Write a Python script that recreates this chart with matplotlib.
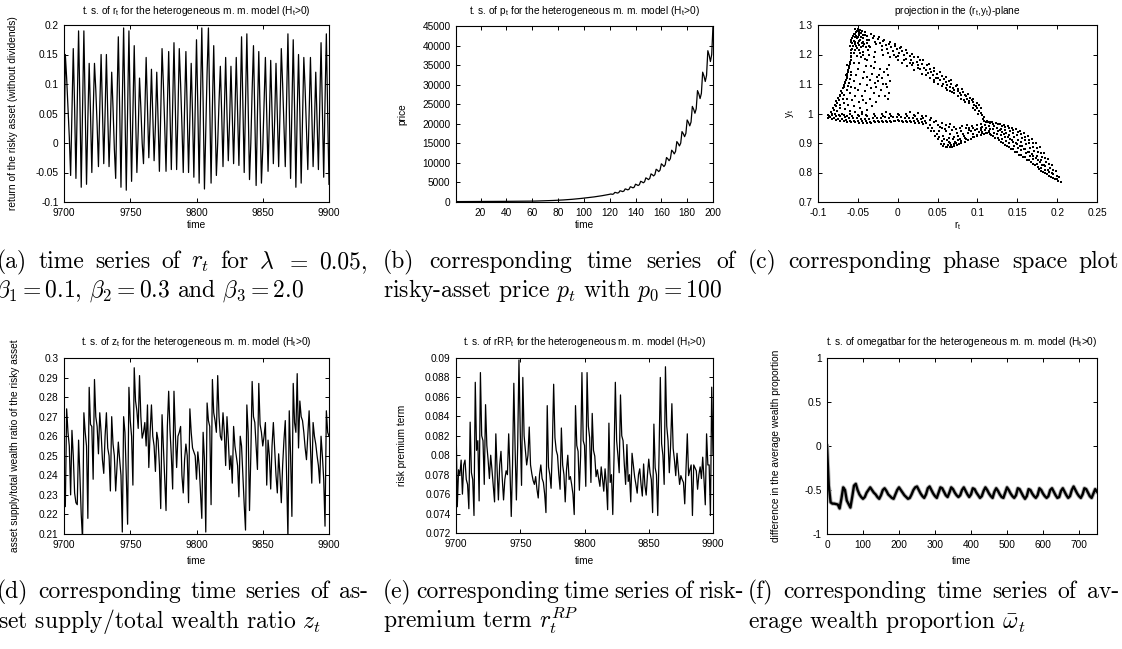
import numpy as np
import matplotlib
matplotlib.use("Agg")
import matplotlib.pyplot as plt
from matplotlib.ticker import FuncFormatter

W, H = 1122, 649

# ---------------- data ----------------
t_window = np.arange(9700, 9901)

# return of the risky asset r_t, t = 9700..9900
r_t = [
    -0.04, 0.15, 0.11, 0.06, 0.01, -0.055, 0.05, 0.16, 0.06, -0.06,
    0.07, 0.19, 0.07, -0.075, 0.06, 0.19, 0.06, -0.07, 0.04, 0.135,
    0.05, -0.05, 0.05, 0.135, 0.09, 0.03, -0.04, 0.06, 0.15, 0.06,
    -0.035, 0.05, 0.15, 0.05, -0.04, 0.03, 0.12, 0.06, -0.01, -0.06,
    0.07, 0.18, 0.06, -0.075, 0.07, 0.195, 0.06, -0.08, 0.06, 0.19,
    0.05, -0.065, 0.05, 0.165, 0.05, -0.05, 0.02, 0.11, 0.06, 0.0,
    -0.035, 0.05, 0.145, 0.06, -0.025, 0.04, 0.125, 0.05, -0.03, 0.03,
    0.12, 0.04, -0.048, 0.05, 0.16, 0.10, 0.03, -0.048, 0.06, 0.155,
    0.05, -0.045, 0.06, 0.17, 0.06, -0.045, 0.05, 0.16, 0.10, 0.03,
    -0.05, 0.06, 0.155, 0.05, -0.05, 0.04, 0.135, 0.05, -0.058, 0.06,
    0.175, 0.06, -0.068, 0.07, 0.195, 0.07, -0.078, 0.02, 0.12, 0.195,
    0.06, -0.068, 0.06, 0.165, 0.05, -0.055, 0.0, 0.07, 0.13, 0.05,
    -0.04, 0.05, 0.145, 0.05, -0.03, 0.04, 0.13, 0.05, -0.035, 0.05,
    0.145, 0.05, -0.038, 0.06, 0.18, 0.06, -0.05, 0.07, 0.185, 0.06,
    -0.062, 0.0, 0.09, 0.165, 0.05, -0.072, 0.05, 0.155, 0.05, -0.068,
    -0.01, 0.07, 0.145, 0.05, -0.048, 0.04, 0.14, 0.05, -0.035, 0.04,
    0.135, 0.05, -0.04, 0.05, 0.16, 0.10, 0.03, -0.04, 0.07, 0.185,
    0.06, -0.06, 0.06, 0.175, 0.06, -0.075, 0.05, 0.15, 0.05, -0.068,
    0.04, 0.145, 0.09, 0.02, -0.045, 0.05, 0.145, 0.05, -0.04, 0.03,
    0.12, 0.04, -0.045, 0.06, 0.17, 0.06, -0.058, 0.07, 0.185, 0.05,
    -0.07,
]

# asset supply / total wealth ratio z_t, t = 9700..9900
z_t = [
    0.226, 0.224, 0.274, 0.262, 0.255, 0.230, 0.263, 0.250, 0.231, 0.226,
    0.225, 0.258, 0.240, 0.220, 0.207, 0.272, 0.262, 0.255, 0.218, 0.285,
    0.266, 0.265, 0.238, 0.289, 0.270, 0.265, 0.251, 0.272, 0.262, 0.248,
    0.241, 0.260, 0.272, 0.254, 0.250, 0.232, 0.270, 0.256, 0.250, 0.232,
    0.245, 0.257, 0.248, 0.240, 0.211, 0.270, 0.262, 0.240, 0.215, 0.285,
    0.268, 0.260, 0.235, 0.295, 0.278, 0.273, 0.264, 0.291, 0.270, 0.259,
    0.262, 0.267, 0.255, 0.276, 0.244, 0.262, 0.276, 0.260, 0.255, 0.242,
    0.262, 0.258, 0.245, 0.223, 0.271, 0.255, 0.238, 0.222, 0.265, 0.283,
    0.263, 0.250, 0.233, 0.283, 0.262, 0.244, 0.260, 0.262, 0.265, 0.240,
    0.231, 0.248, 0.256, 0.250, 0.226, 0.274, 0.262, 0.254, 0.252, 0.250,
    0.238, 0.252, 0.245, 0.232, 0.218, 0.262, 0.248, 0.211, 0.277, 0.268,
    0.265, 0.225, 0.289, 0.272, 0.268, 0.262, 0.291, 0.270, 0.260, 0.258,
    0.272, 0.262, 0.245, 0.270, 0.258, 0.243, 0.250, 0.236, 0.265, 0.255,
    0.250, 0.245, 0.229, 0.260, 0.255, 0.240, 0.225, 0.212, 0.276, 0.262,
    0.222, 0.250, 0.288, 0.270, 0.267, 0.255, 0.243, 0.287, 0.266, 0.262,
    0.255, 0.260, 0.267, 0.235, 0.258, 0.250, 0.233, 0.255, 0.267, 0.253,
    0.240, 0.231, 0.251, 0.240, 0.226, 0.245, 0.258, 0.268, 0.240, 0.208,
    0.273, 0.250, 0.219, 0.287, 0.267, 0.262, 0.292, 0.254, 0.278, 0.270,
    0.268, 0.262, 0.254, 0.248, 0.260, 0.273, 0.255, 0.236, 0.267, 0.260,
    0.256, 0.250, 0.245, 0.236, 0.260, 0.250, 0.238, 0.214, 0.273, 0.262,
    0.260,
]

# risk-premium term rRP_t, t = 9700..9900
rrp_t = [
    0.0838, 0.0747, 0.0785, 0.0780, 0.0795, 0.0760, 0.0790, 0.0795, 0.0775, 0.0770,
    0.0745, 0.0834, 0.0782, 0.0775, 0.0738, 0.0875, 0.0805, 0.0815, 0.0753, 0.0885,
    0.0820, 0.0815, 0.0770, 0.0852, 0.0810, 0.0795, 0.0776, 0.0800, 0.0785, 0.0768,
    0.0752, 0.0822, 0.0785, 0.0754, 0.0790, 0.0804, 0.0776, 0.0754, 0.0775, 0.0784,
    0.0780, 0.0822, 0.0785, 0.0737, 0.0790, 0.0874, 0.0806, 0.0754, 0.0810, 0.0898,
    0.0824, 0.0769, 0.0880, 0.0820, 0.0805, 0.0790, 0.0800, 0.0829, 0.0790, 0.0781,
    0.0774, 0.0770, 0.0778, 0.0765, 0.0756, 0.0780, 0.0790, 0.0776, 0.0772, 0.0760,
    0.0741, 0.0851, 0.0788, 0.0780, 0.0766, 0.0810, 0.0873, 0.0818, 0.0805, 0.0800,
    0.0780, 0.0765, 0.0828, 0.0790, 0.0780, 0.0752, 0.0785, 0.0800, 0.0775, 0.0778,
    0.0770, 0.0760, 0.0739, 0.0851, 0.0810, 0.0804, 0.0764, 0.0800, 0.0885, 0.0815,
    0.0810, 0.0768, 0.0885, 0.0830, 0.0818, 0.0772, 0.0843, 0.0805, 0.0799, 0.0778,
    0.0785, 0.0776, 0.0768, 0.0788, 0.0775, 0.0763, 0.0786, 0.0770, 0.0744, 0.0833,
    0.0772, 0.0780, 0.0739, 0.0800, 0.0875, 0.0815, 0.0800, 0.0782, 0.0862, 0.0820,
    0.0815, 0.0790, 0.0770, 0.0811, 0.0773, 0.0780, 0.0752, 0.0802, 0.0790, 0.0778,
    0.0770, 0.0761, 0.0780, 0.0786, 0.0770, 0.0758, 0.0791, 0.0769, 0.0759, 0.0780,
    0.0796, 0.0782, 0.0775, 0.0741, 0.0832, 0.0787, 0.0780, 0.0738, 0.0800, 0.0880,
    0.0812, 0.0800, 0.0770, 0.0891, 0.0830, 0.0815, 0.0782, 0.0810, 0.0853, 0.0807,
    0.0795, 0.0779, 0.0802, 0.0785, 0.0770, 0.0779, 0.0775, 0.0772, 0.0750, 0.0785,
    0.0822, 0.0779, 0.0785, 0.0790, 0.0738, 0.0790, 0.0787, 0.0784, 0.0765, 0.0780,
    0.0788, 0.0776, 0.0798, 0.0775, 0.0749, 0.0822, 0.0790, 0.0790, 0.0738, 0.0870,
    0.0800,
]

# risky-asset price p_t, t = 0..200
t_price = np.arange(0, 201)
p_t = [
    100, 101, 103, 104, 106, 107, 108, 110, 111, 112,
    114, 115, 117, 118, 120, 121, 123, 124, 126, 128,
    129, 131, 133, 134, 136, 138, 140, 141, 143, 145,
    147, 149, 151, 153, 155, 157, 159, 161, 163, 165,
    167, 169, 171, 174, 176, 178, 181, 183, 185, 188,
    190, 193, 195, 198, 200, 203, 206, 208, 211, 214,
    217, 225, 233, 242, 251, 260, 270, 280, 290, 301,
    312, 323, 335, 347, 360, 373, 387, 401, 416, 431,
    447, 465, 484, 504, 524, 545, 568, 591, 615, 640,
    666, 693, 721, 750, 781, 813, 846, 880, 916, 953,
    992, 1027, 1063, 1100, 1139, 1179, 1220, 1263, 1307, 1353,
    1400, 1449, 1500, 1552, 1607, 1663, 1721, 1781, 1844, 1908,
    1975, 2052, 1961, 2060, 2462, 2391, 2285, 2400, 2870, 2786,
    2663, 2797, 3344, 3247, 3104, 3260, 3897, 3784, 3617, 3799,
    4541, 4409, 4215, 4427, 5292, 5138, 4912, 5159, 6166, 5988,
    5723, 6012, 7186, 6978, 6670, 7006, 8374, 8131, 7773, 8164,
    9759, 9476, 9058, 9514, 11373, 11043, 10556, 11087, 13253, 12869,
    12301, 12920, 15445, 14997, 14335, 15056, 17998, 17477, 16706, 17546,
    20975, 20368, 19469, 20448, 24444, 23736, 22689, 23829, 28487, 27661,
    26441, 27771, 33197, 32235, 30814, 32363, 38687, 37566, 35909, 37714,
    45084,
]

# difference in the average wealth proportion, t = 0, 5, ..., 750
t_omega = np.arange(0, 751, 5)
omega_bar = [
    0.0, -0.45, -0.64, -0.655, -0.655, -0.66, -0.665, -0.71, -0.60, -0.47,
    -0.50, -0.62, -0.66, -0.70, -0.58, -0.45, -0.43, -0.50, -0.55, -0.58,
    -0.60, -0.58, -0.53, -0.50, -0.47, -0.50, -0.53, -0.55, -0.58, -0.60,
    -0.56, -0.50, -0.48, -0.51, -0.55, -0.57, -0.59, -0.60, -0.55, -0.50,
    -0.47, -0.50, -0.53, -0.56, -0.58, -0.60, -0.59, -0.55, -0.50, -0.47,
    -0.46, -0.50, -0.54, -0.57, -0.59, -0.55, -0.48, -0.46, -0.50, -0.54,
    -0.57, -0.59, -0.53, -0.47, -0.48, -0.52, -0.56, -0.58, -0.53, -0.47,
    -0.49, -0.53, -0.56, -0.58, -0.56, -0.50, -0.47, -0.51, -0.55, -0.58,
    -0.55, -0.48, -0.49, -0.53, -0.56, -0.59, -0.57, -0.51, -0.47, -0.50,
    -0.54, -0.57, -0.59, -0.52, -0.48, -0.51, -0.55, -0.58, -0.59, -0.53,
    -0.47, -0.50, -0.54, -0.57, -0.59, -0.56, -0.48, -0.49, -0.53, -0.57,
    -0.60, -0.57, -0.49, -0.50, -0.54, -0.57, -0.59, -0.56, -0.48, -0.50,
    -0.54, -0.57, -0.59, -0.57, -0.50, -0.48, -0.52, -0.56, -0.59, -0.58,
    -0.51, -0.48, -0.52, -0.56, -0.59, -0.57, -0.50, -0.46, -0.50, -0.54,
    -0.57, -0.59, -0.55, -0.48, -0.49, -0.53, -0.57, -0.59, -0.54, -0.49,
    -0.52,
]

# (r_t, y_t) states of the attractor
phase_points = [
    # upper edge running from the top-left tip down to the crossing
    (-0.050, 1.288), (-0.048, 1.280), (-0.046, 1.272), (-0.052, 1.275), (-0.044, 1.265),
    (-0.041, 1.276), (-0.038, 1.262), (-0.036, 1.250), (-0.034, 1.268), (-0.031, 1.255),
    (-0.029, 1.243), (-0.027, 1.235), (-0.025, 1.252), (-0.022, 1.240), (-0.020, 1.228),
    (-0.018, 1.246), (-0.015, 1.232), (-0.013, 1.220), (-0.011, 1.236), (-0.008, 1.226),
    (-0.006, 1.212), (-0.004, 1.230), (-0.001, 1.218), (0.001, 1.205), (0.003, 1.222),
    (0.006, 1.212), (0.008, 1.198), (0.010, 1.185), (0.012, 1.206), (0.015, 1.195),
    (0.017, 1.182), (0.019, 1.170), (0.021, 1.190), (0.024, 1.176), (0.026, 1.163),
    (0.028, 1.180), (0.031, 1.168), (0.033, 1.155), (0.035, 1.148), (0.037, 1.163),
    (0.040, 1.152), (0.042, 1.140), (0.044, 1.130), (0.046, 1.145), (0.049, 1.135),
    (0.051, 1.122), (0.053, 1.113), (0.055, 1.128), (0.058, 1.118), (0.060, 1.106),
    (0.062, 1.098), (0.064, 1.110), (0.067, 1.100), (0.069, 1.088), (0.071, 1.080),
    (0.073, 1.092), (0.076, 1.082), (0.078, 1.070), (0.080, 1.062), (0.082, 1.072),
    (0.085, 1.062), (0.087, 1.050), (0.089, 1.044), (0.091, 1.052), (0.094, 1.040),
    (0.096, 1.030), (0.098, 1.024), (0.100, 1.018), (0.102, 1.010), (0.104, 1.002),
    (0.106, 0.995), (0.108, 0.988),
    (-0.035, 1.225), (-0.028, 1.210), (-0.018, 1.200), (-0.010, 1.190), (0.000, 1.180),
    (0.005, 1.170), (0.012, 1.160), (0.020, 1.148), (0.030, 1.135), (0.040, 1.122),
    (0.050, 1.100), (0.060, 1.085), (0.070, 1.068), (0.080, 1.050), (0.090, 1.035),
    (0.000, 1.195), (0.015, 1.170), (0.025, 1.155), (-0.005, 1.200), (0.035, 1.130),
    (0.045, 1.115), (0.065, 1.075), (0.075, 1.060), (0.085, 1.040), (0.095, 1.020),
    (-0.030, 1.264), (-0.024, 1.258), (-0.017, 1.250), (-0.010, 1.242), (-0.003, 1.234),
    (0.004, 1.226), (0.011, 1.215), (0.018, 1.203), (0.025, 1.192), (0.032, 1.180),
    (0.039, 1.167), (0.046, 1.154), (0.053, 1.140), (0.060, 1.125), (0.067, 1.112),
    (0.074, 1.098), (0.081, 1.083), (0.088, 1.066), (0.095, 1.048), (0.102, 1.028),
    (-0.020, 1.215), (-0.012, 1.205), (-0.002, 1.192), (0.008, 1.180), (0.018, 1.165),
    (0.028, 1.150), (0.038, 1.138), (0.048, 1.120), (0.057, 1.100), (0.066, 1.090),
    (0.076, 1.075), (0.086, 1.058), (0.093, 1.045), (0.099, 1.035), (0.105, 1.020),
    (0.045, 1.108), (0.055, 1.092), (0.062, 1.081), (0.068, 1.072), (0.083, 1.047),
    (0.097, 1.012), (0.101, 1.000), (0.107, 0.982), (0.112, 0.975), (0.116, 0.970),
    # dense cluster at the top-left tip
    (-0.054, 1.285), (-0.051, 1.281), (-0.049, 1.274), (-0.047, 1.284), (-0.045, 1.279),
    (-0.055, 1.268), (-0.052, 1.262), (-0.050, 1.258), (-0.048, 1.247), (-0.046, 1.260),
    (-0.043, 1.255), (-0.041, 1.266), (-0.039, 1.249), (-0.057, 1.255), (-0.059, 1.242),
    (-0.060, 1.228), (-0.054, 1.234), (-0.051, 1.222), (-0.049, 1.232), (-0.046, 1.226),
    (-0.044, 1.244), (-0.042, 1.236), (-0.040, 1.226), (-0.058, 1.215), (-0.055, 1.205),
    (-0.053, 1.215), (-0.047, 1.205), (-0.044, 1.198), (-0.038, 1.238), (-0.036, 1.228),
    # left band between the leftmost point and the tip
    (-0.086, 0.992), (-0.083, 1.000), (-0.080, 1.012), (-0.078, 1.025), (-0.082, 0.995),
    (-0.076, 1.035), (-0.074, 1.045), (-0.072, 1.058), (-0.070, 1.070), (-0.069, 1.085),
    (-0.067, 1.095), (-0.066, 1.108), (-0.064, 1.120), (-0.063, 1.135), (-0.062, 1.148),
    (-0.061, 1.160), (-0.060, 1.175), (-0.059, 1.190), (-0.058, 1.205), (-0.057, 1.218),
    (-0.056, 1.230), (-0.055, 1.245), (-0.054, 1.258), (-0.053, 1.270), (-0.056, 1.262),
    (-0.058, 1.250), (-0.057, 1.238), (-0.053, 1.242), (-0.051, 1.255), (-0.052, 1.228),
    (-0.050, 1.240), (-0.049, 1.265), (-0.047, 1.250), (-0.045, 1.238),
    (-0.087, 0.996), (-0.084, 1.006), (-0.081, 1.018), (-0.079, 1.030), (-0.077, 1.041),
    (-0.075, 1.052), (-0.073, 1.064), (-0.071, 1.077), (-0.068, 1.090), (-0.066, 1.102),
    (-0.065, 1.114), (-0.063, 1.126), (-0.062, 1.140), (-0.061, 1.153), (-0.060, 1.168),
    (-0.059, 1.182), (-0.058, 1.196), (-0.076, 1.010), (-0.073, 1.028), (-0.069, 1.048),
    (-0.067, 1.063), (-0.064, 1.078), (-0.062, 1.092), (-0.060, 1.118), (-0.058, 1.132),
    (-0.072, 1.020), (-0.068, 1.035), (-0.064, 1.050), (-0.060, 1.070), (-0.058, 1.090),
    (-0.055, 1.110), (-0.052, 1.130), (-0.050, 1.150), (-0.048, 1.170), (-0.046, 1.190),
    (-0.044, 1.210), (-0.066, 1.015), (-0.062, 1.030), (-0.057, 1.045), (-0.053, 1.060),
    (-0.050, 1.080), (-0.047, 1.100), (-0.044, 1.120), (-0.042, 1.140), (-0.040, 1.160),
    (-0.038, 1.180), (-0.036, 1.200), (-0.060, 1.010), (-0.055, 1.025), (-0.049, 1.040),
    (-0.045, 1.060), (-0.041, 1.075), (-0.038, 1.095), (-0.035, 1.115), (-0.032, 1.135),
    (-0.030, 1.155), (-0.028, 1.175), (-0.054, 1.005), (-0.047, 1.020), (-0.040, 1.035),
    (-0.035, 1.050), (-0.030, 1.070), (-0.027, 1.090), (-0.025, 1.110), (-0.023, 1.130),
    (-0.022, 1.150), (-0.045, 1.000), (-0.038, 1.012), (-0.032, 1.025), (-0.027, 1.040),
    (-0.024, 1.060), (-0.021, 1.080), (-0.019, 1.100), (-0.020, 1.120), (-0.063, 1.165),
    (-0.059, 1.140), (-0.055, 1.170), (-0.051, 1.195), (-0.048, 1.215), (-0.043, 1.230),
    (-0.065, 1.130), (-0.061, 1.105), (-0.054, 1.085), (-0.043, 1.045), (-0.034, 1.085),
    (-0.029, 1.105), (-0.026, 1.125), (-0.039, 1.125), (-0.033, 1.160), (-0.030, 1.190),
    (-0.041, 1.185), (-0.037, 1.215),
    (-0.012, 1.050), (-0.011, 1.070), (-0.013, 1.090), (-0.010, 1.110), (-0.012, 1.130),
    (-0.014, 1.150), (-0.011, 1.165), (-0.016, 1.060), (-0.015, 1.100), (-0.017, 1.140),
    # bottom band of the left loop
    (-0.085, 0.988), (-0.080, 0.985), (-0.075, 0.982), (-0.070, 0.980), (-0.065, 0.978),
    (-0.060, 0.976), (-0.055, 0.975), (-0.050, 0.974), (-0.045, 0.973), (-0.040, 0.973),
    (-0.035, 0.972), (-0.030, 0.973), (-0.025, 0.974), (-0.020, 0.974), (-0.015, 0.975),
    (-0.010, 0.976), (-0.005, 0.976), (0.000, 0.977), (0.005, 0.976), (0.010, 0.976),
    (0.015, 0.975), (0.020, 0.974), (0.025, 0.973), (0.030, 0.972),
    (-0.082, 0.995), (-0.077, 0.992), (-0.072, 0.990), (-0.066, 0.988), (-0.061, 0.986),
    (-0.056, 0.985), (-0.051, 0.984), (-0.046, 0.983), (-0.041, 0.982), (-0.036, 0.983),
    (-0.031, 0.984), (-0.026, 0.985), (-0.021, 0.986), (-0.016, 0.987), (-0.011, 0.986),
    (-0.006, 0.987), (-0.001, 0.988), (0.004, 0.987), (0.009, 0.986), (0.014, 0.985),
    (0.019, 0.984), (0.024, 0.983), (0.029, 0.980), (0.034, 0.976),
    (-0.070, 1.000), (-0.060, 0.998), (-0.050, 0.995), (-0.040, 0.996), (-0.030, 0.997),
    (-0.020, 0.999), (-0.010, 0.998), (0.000, 1.000), (0.010, 0.998), (0.020, 0.995),
    (0.030, 0.992), (0.036, 0.990), (0.042, 0.985), (-0.045, 1.005), (-0.015, 1.006),
    (0.015, 1.004), (0.025, 1.002),
    (-0.087, 0.984), (-0.083, 0.980), (-0.078, 0.977), (-0.073, 0.975), (-0.068, 0.973),
    (-0.063, 0.972), (-0.058, 0.971), (-0.053, 0.970), (-0.048, 0.969), (-0.043, 0.969),
    (-0.038, 0.968), (-0.033, 0.969), (-0.028, 0.970), (-0.023, 0.970), (-0.018, 0.971),
    (-0.013, 0.972), (-0.008, 0.972), (-0.003, 0.973), (0.002, 0.973), (0.007, 0.972),
    (0.012, 0.971), (0.017, 0.970), (0.022, 0.969), (0.027, 0.967), (0.032, 0.964),
    (-0.079, 0.998), (-0.074, 0.995), (-0.068, 0.994), (-0.063, 0.993), (-0.057, 0.991),
    (-0.048, 0.990), (-0.038, 0.990), (-0.028, 0.992), (-0.018, 0.993), (-0.008, 0.993),
    (0.002, 0.994), (0.012, 0.992), (0.022, 0.990), (0.032, 0.986), (0.040, 0.978),
    # notch below the crossing
    (0.035, 0.968), (0.040, 0.960), (0.043, 0.950), (0.046, 0.940), (0.049, 0.930),
    (0.052, 0.920), (0.055, 0.908), (0.058, 0.897), (0.060, 0.888), (0.062, 0.885),
    (0.065, 0.886), (0.068, 0.888), (0.071, 0.890), (0.074, 0.893), (0.077, 0.897),
    (0.080, 0.900), (0.084, 0.905), (0.088, 0.910), (0.092, 0.915), (0.096, 0.920),
    (0.100, 0.924), (0.104, 0.928), (0.108, 0.931), (0.112, 0.934),
    (0.045, 0.970), (0.050, 0.960), (0.055, 0.950), (0.060, 0.940), (0.065, 0.930),
    (0.070, 0.920), (0.075, 0.910), (0.052, 0.940), (0.057, 0.925), (0.062, 0.910),
    (0.066, 0.900), (0.072, 0.905), (0.078, 0.915), (0.083, 0.925), (0.088, 0.935),
    (0.092, 0.940), (0.097, 0.945), (0.068, 0.945), (0.074, 0.935), (0.080, 0.940),
    (0.086, 0.950), (0.060, 0.960), (0.064, 0.955), (0.070, 0.955), (0.078, 0.952),
    (0.090, 0.952), (0.100, 0.948), (0.105, 0.950), (0.110, 0.945), (0.095, 0.930),
    (0.102, 0.938), (0.048, 0.975), (0.056, 0.968), (0.085, 0.918), (0.064, 0.918),
    (0.070, 0.898),
    (0.038, 0.952), (0.042, 0.942), (0.047, 0.925), (0.050, 0.912), (0.054, 0.898),
    (0.057, 0.889), (0.063, 0.892), (0.067, 0.894), (0.073, 0.899), (0.079, 0.906),
    (0.086, 0.913), (0.094, 0.921), (0.099, 0.928), (0.106, 0.934), (0.114, 0.940),
    (0.058, 0.915), (0.064, 0.905), (0.069, 0.912), (0.076, 0.925), (0.082, 0.932),
    (0.089, 0.943), (0.094, 0.950), (0.053, 0.955), (0.059, 0.948), (0.066, 0.965),
    (0.073, 0.948), (0.081, 0.958), (0.087, 0.962), (0.093, 0.958), (0.099, 0.962),
    # right lobe ending in the lower-right tip
    (0.1050, 0.966), (0.1057, 0.954), (0.1046, 0.944), (0.1062, 0.938),
    (0.1103, 0.971), (0.1096, 0.961), (0.1108, 0.951), (0.1094, 0.943), (0.1112, 0.934),
    (0.1152, 0.968), (0.1145, 0.957), (0.1158, 0.949), (0.1148, 0.938), (0.1155, 0.929),
    (0.1196, 0.965), (0.1205, 0.956), (0.1193, 0.946), (0.1207, 0.934), (0.1199, 0.924),
    (0.1253, 0.963), (0.1244, 0.951), (0.1258, 0.941), (0.1247, 0.929), (0.1256, 0.917),
    (0.1302, 0.959), (0.1295, 0.949), (0.1309, 0.937), (0.1297, 0.926), (0.1305, 0.913),
    (0.1294, 0.903),
    (0.1351, 0.955), (0.1344, 0.944), (0.1358, 0.933), (0.1347, 0.919), (0.1355, 0.906),
    (0.1346, 0.894),
    (0.1398, 0.951), (0.1406, 0.939), (0.1394, 0.927), (0.1409, 0.914), (0.1401, 0.899),
    (0.1396, 0.886),
    (0.1452, 0.944), (0.1445, 0.933), (0.1457, 0.919), (0.1448, 0.905), (0.1455, 0.891),
    (0.1449, 0.879),
    (0.1503, 0.937), (0.1496, 0.926), (0.1508, 0.911), (0.1494, 0.897), (0.1506, 0.883),
    (0.1499, 0.869),
    (0.1548, 0.930), (0.1556, 0.917), (0.1545, 0.905), (0.1558, 0.889), (0.1551, 0.877),
    (0.1546, 0.861),
    (0.1602, 0.921), (0.1595, 0.909), (0.1607, 0.896), (0.1598, 0.879), (0.1604, 0.867),
    (0.1596, 0.851),
    (0.1653, 0.911), (0.1646, 0.899), (0.1655, 0.884), (0.1644, 0.871), (0.1657, 0.855),
    (0.1649, 0.843),
    (0.1701, 0.899), (0.1694, 0.887), (0.1706, 0.874), (0.1697, 0.857), (0.1703, 0.845),
    (0.1695, 0.829),
    (0.1748, 0.884), (0.1755, 0.871), (0.1746, 0.857), (0.1754, 0.844), (0.1749, 0.829),
    (0.1756, 0.817),
    (0.1797, 0.867), (0.1804, 0.854), (0.1795, 0.841), (0.1806, 0.827), (0.1799, 0.814),
    (0.1803, 0.804),
    (0.1848, 0.849), (0.1854, 0.835), (0.1846, 0.823), (0.1853, 0.809), (0.1849, 0.797),
    (0.1898, 0.829), (0.1905, 0.815), (0.1896, 0.802), (0.1903, 0.789),
    (0.1947, 0.807), (0.1954, 0.794), (0.1949, 0.783),
    (0.1996, 0.789), (0.2003, 0.777),
    (0.2048, 0.767),
    (0.108, 0.975), (0.113, 0.972), (0.118, 0.971), (0.123, 0.968), (0.128, 0.966),
    (0.133, 0.962), (0.138, 0.958), (0.143, 0.952), (0.148, 0.946), (0.153, 0.940),
    (0.158, 0.933), (0.163, 0.923), (0.168, 0.912), (0.173, 0.900), (0.178, 0.885),
    (0.183, 0.866), (0.188, 0.847), (0.193, 0.826), (0.198, 0.805), (0.202, 0.785),
    (0.117, 0.926), (0.122, 0.918), (0.127, 0.910), (0.132, 0.900), (0.137, 0.889),
    (0.142, 0.878), (0.147, 0.868), (0.152, 0.860), (0.157, 0.852), (0.162, 0.843),
    (0.167, 0.834), (0.172, 0.824), (0.177, 0.813), (0.182, 0.803), (0.187, 0.794),
    (0.192, 0.786), (0.197, 0.778), (0.201, 0.772),
    (0.128, 0.945), (0.138, 0.920), (0.148, 0.900), (0.158, 0.880), (0.168, 0.862),
    (0.178, 0.835), (0.188, 0.810), (0.133, 0.930), (0.143, 0.910), (0.153, 0.890),
    (0.163, 0.870), (0.173, 0.850), (0.183, 0.825), (0.193, 0.800),
]
phase_r = [pt[0] for pt in phase_points]
phase_y = [pt[1] for pt in phase_points]

# ---------------- styling ----------------
plt.rcParams.update({
    "font.family": ["Liberation Sans", "DejaVu Sans"],
    "axes.unicode_minus": False,
    "mathtext.fontset": "custom",
    "mathtext.rm": "Liberation Sans",
    "mathtext.it": "Liberation Sans:italic",
})

fig = plt.figure(figsize=(W / 100, H / 100), dpi=100)
FS = 7.3


def ftext(x, y, s, **kw):
    return fig.text(x / W, 1 - y / H, s, **kw)


def axes_px(l, t, r, b):
    return fig.add_axes([l / W, 1 - b / H, (r - l) / W, (b - t) / H])


def gfmt(v, _):
    v = round(v, 6) + 0.0
    return f"{v:g}"


def style(ax, xlim, ylim, xticks, yticks):
    ax.set_xlim(*xlim)
    ax.set_ylim(*ylim)
    ax.set_xticks(xticks)
    ax.set_yticks(yticks)
    ax.xaxis.set_major_formatter(FuncFormatter(gfmt))
    ax.yaxis.set_major_formatter(FuncFormatter(gfmt))
    ax.tick_params(direction="in", top=True, right=True, length=2.8,
                   width=0.7, labelsize=FS, pad=4)
    for s in ax.spines.values():
        s.set_linewidth(0.8)


def panel_text(box, title, xlabel, ylabel, ylab_x, title_y, xlab_y):
    l, t, r, b = box
    ftext((l + r) / 2, title_y, title, ha="center", va="center", fontsize=FS)
    ftext((l + r) / 2, xlab_y, xlabel, ha="center", va="center", fontsize=FS)
    ftext(ylab_x, (t + b) / 2, ylabel, ha="center", va="center",
          rotation=90, fontsize=FS)


HT = r"($\mathregular{H_t}$>0)"

# (a) r_t
box_a = (64, 25, 329, 202)
ax = axes_px(*box_a)
ax.plot(t_window, r_t, color="black", lw=0.9)
style(ax, (9700, 9900), (-0.1, 0.2), np.arange(9700, 9901, 50),
      np.arange(-0.1, 0.2001, 0.05))
panel_text(box_a, r"t. s. of $\mathregular{r_t}$ for the heterogeneous m. m. model " + HT,
           "time", "return of the risky asset (without dividends)", 13, 11, 225)

# (b) p_t
box_b = (456, 26, 713, 202)
ax = axes_px(*box_b)
ax.plot(t_price, p_t, color="black", lw=0.9)
style(ax, (1, 200), (0, 45000), np.arange(20, 201, 20),
      np.arange(0, 45001, 5000))
panel_text(box_b, r"t. s. of $\mathregular{p_t}$ for the heterogeneous m. m. model " + HT,
           "time", "price", 402, 11, 225)

# (c) phase plot
box_c = (818, 25, 1097, 202)
ax = axes_px(*box_c)
ax.plot(phase_r, phase_y, ls="none", marker="s", ms=1.5, mew=0, color="black")
style(ax, (-0.1, 0.25), (0.7, 1.3), np.arange(-0.1, 0.2501, 0.05),
      np.arange(0.7, 1.3001, 0.1))
panel_text(box_c, r"projection in the ($\mathregular{r_t}$,$\mathregular{y_t}$)-plane",
           r"$\mathregular{r_t}$", r"$\mathregular{y_t}$", 790, 11, 226)

# (d) z_t
box_d = (64, 358, 329, 534)
ax = axes_px(*box_d)
ax.plot(t_window, z_t, color="black", lw=0.9)
style(ax, (9700, 9900), (0.21, 0.3), np.arange(9700, 9901, 50),
      np.arange(0.21, 0.3001, 0.01))
panel_text(box_d, r"t. s. of $\mathregular{z_t}$ for the heterogeneous m. m. model " + HT,
           "time", "asset supply/total wealth ratio of the risky asset", 15, 342, 561)

# (e) rRP_t
box_e = (456, 358, 713, 533)
ax = axes_px(*box_e)
ax.plot(t_window, rrp_t, color="black", lw=0.9)
style(ax, (9700, 9900), (0.072, 0.09), np.arange(9700, 9901, 50),
      np.arange(0.072, 0.09001, 0.002))
panel_text(box_e, r"t. s. of $\mathregular{rRP_t}$ for the heterogeneous m. m. model " + HT,
           "time", "risk premium term", 402, 342, 561)

# (f) omega bar
box_f = (827, 358, 1097, 534)
ax = axes_px(*box_f)
ax.plot(t_omega, omega_bar, color="#b4b4b4", lw=3.0, solid_joinstyle="round")
ax.plot(t_omega, omega_bar, color="black", lw=1.7, solid_joinstyle="round")
style(ax, (0, 750), (-1, 1), np.arange(0, 701, 100), np.arange(-1, 1.001, 0.5))
panel_text(box_f, "t. s. of omegatbar for the heterogeneous m. m. model " + HT,
           "time", "difference in the average wealth proportion", 776, 342, 561)

# ---------------- captions ----------------
renderer = fig.canvas.get_renderer()
CAP = dict(fontfamily="cmr10", math_fontfamily="cm", fontsize=17.5,
           va="baseline", ha="left", color="black")

# size the caption font from the natural width of the (c) caption line
probe = ftext(0, 0, "(c) corresponding phase space plot", **CAP)
natural = probe.get_window_extent(renderer).width
probe.remove()
CAP["fontsize"] = 17.5 * 356.0 / natural


def justified(words, x0, x1, y):
    arts = [ftext(0, y, w, **CAP) for w in words]
    widths = [a.get_window_extent(renderer).width for a in arts]
    gap = max((x1 - x0 - sum(widths)) / (len(words) - 1), 3.5)
    x = x0
    for a, w in zip(arts, widths):
        a.set_position((x / W, 1 - y / H))
        x += w + gap


justified(["(a)", "time", "series", "of", "$r_t$", "for", r"$\lambda$", "$=$", "0.05,"],
          -3, 368, 268)
ftext(-5, 297, r"$\beta_1 = 0.1$, $\beta_2 = 0.3$ and $\beta_3 = 2.0$", **CAP)
justified(["(b)", "corresponding", "time", "series", "of"], 383, 735, 268)
ftext(383, 297, r"risky-asset price $p_t$ with $p_0 = 100$", **CAP)
justified(["(c)", "corresponding", "phase", "space", "plot"], 748, 1119, 268)

justified(["(d)", "corresponding", "time", "series", "of", "as-"], -3, 368, 598)
ftext(-2, 628, r"set supply/total wealth ratio $z_t$", **CAP)
justified(["(e)", "corresponding", "time", "series", "of", "risk-"], 383, 744, 598)
ftext(383, 628, r"premium term $r_t^{RP}$", **CAP)
justified(["(f)", "corresponding", "time", "series", "of", "av-"], 748, 1119, 598)
ftext(748, 628, r"erage wealth proportion $\bar{\omega}_t$", **CAP)

fig.savefig("out.png", dpi=100)
